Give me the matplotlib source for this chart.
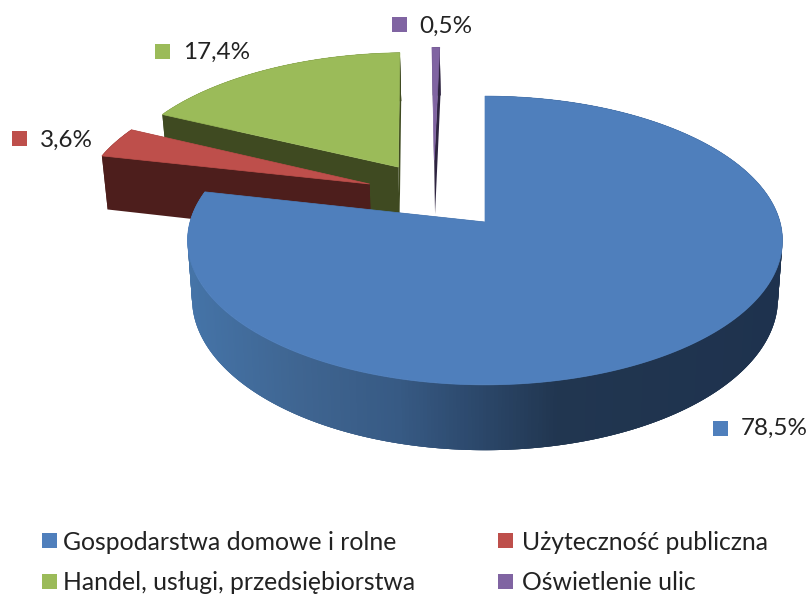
import numpy as np
import matplotlib
matplotlib.use("Agg")
import matplotlib.pyplot as plt
from matplotlib.patches import Polygon, Rectangle
from matplotlib.colors import to_rgb

categories = ["Gospodarstwa domowe i rolne", "Użyteczność publiczna",
              "Handel, usługi, przedsiębiorstwa", "Oświetlenie ulic"]
values = [78.5, 3.6, 17.4, 0.5]
value_labels = ["78,5%", "3,6%", "17,4%", "0,5%"]

top_colors = ["#4F7FBC", "#BE4F4B", "#9BBB59", "#8064A2"]
side_colors = ["#1F3350", "#4D1E1C", "#3F4A21", "#2E2440"]
offsets = [(0, 0), (-0.405, -0.277), (-0.309, -0.407), (-0.182, -0.46)]
draw_order = [2, 3, 1, 0]

CX, CY, RX, RY, P = 485.0, 222.0, 295.0, 142.0, 0.128
DEPTH, INSET = 57.0, 0.985
side_stops_x = [187, 300, 400, 470, 560, 783]
side_stops_c = ["#4574A8", "#3F6591", "#375A84", "#2D4A6E", "#213650", "#1E324E"]


def top_pt(X, Z):
    w = 1 - P * Z
    return CX + RX * X / w, CY + RY * Z / w


def low_pt(X, Z):
    x, y = top_pt(X, Z)
    return CX + (x - CX) * INSET, y + DEPTH / (1 - P * Z)


def blue_shade(x):
    rgb = np.array([to_rgb(c) for c in side_stops_c])
    return tuple(np.interp(x, side_stops_x, rgb[:, i]) for i in range(3))


fig = plt.figure(figsize=(8.12, 5.94), dpi=100)
ax = fig.add_axes([0, 0, 1, 1])
ax.set_xlim(0, 812)
ax.set_ylim(594, 0)
ax.axis("off")

fractions = np.array(values) / np.sum(values)
edges = np.concatenate([[0], np.cumsum(fractions)]) * 2 * np.pi

for i in draw_order:
    th = np.linspace(edges[i], edges[i + 1], max(8, int((edges[i + 1] - edges[i]) * 90)))
    ox, oz = offsets[i]
    X = ox + np.sin(th)
    Z = oz - np.cos(th)
    top = np.array([top_pt(a, b) for a, b in zip(X, Z)])
    low = np.array([low_pt(a, b) for a, b in zip(X, Z)])
    apex_t = top_pt(ox, oz)
    apex_l = low_pt(ox, oz)
    dark = side_colors[i]
    # radial faces
    for k in (0, -1):
        ax.add_patch(Polygon([apex_t, top[k], low[k], apex_l], closed=True,
                             fc=dark, ec="none", zorder=1))
    # outer wall: each band overlaps the next so no seams show
    n = len(th)
    for k in range(n - 1):
        j = min(k + 3, n - 1)
        c = blue_shade(top[k, 0]) if i == 0 else dark
        ax.add_patch(Polygon([top[k], top[j], low[j], low[k]], closed=True,
                             fc=c, ec="none", zorder=1))
    ax.add_patch(Polygon(np.vstack([[apex_t], top]), closed=True,
                         fc=top_colors[i], ec=top_colors[i], lw=0.5, zorder=1))

font = "Lato"
label_boxes = [(713, 421), (12, 131), (155, 44), (392, 17)]
label_text_xy = [(741, 428), (40, 140), (183, 52), (419, 26)]
for i in range(4):
    bx, by = label_boxes[i]
    ax.add_patch(Rectangle((bx, by), 15, 15, fc=top_colors[i], ec="none", zorder=3))
    tx, ty = label_text_xy[i]
    ax.text(tx, ty, value_labels[i], fontsize=17.5, family=font, color="#222222",
            ha="left", va="center", zorder=4)

legend_boxes = [(42, 533), (498, 533), (42, 574), (498, 574)]
legend_text_xy = [(63, 542), (522, 542), (63, 583), (522, 583)]
for i in range(4):
    bx, by = legend_boxes[i]
    ax.add_patch(Rectangle((bx, by), 15, 15, fc=top_colors[i], ec="none", zorder=3))
    tx, ty = legend_text_xy[i]
    ax.text(tx, ty, categories[i], fontsize=17.8, family=font, color="#222222",
            ha="left", va="center", zorder=4)

fig.savefig("out.png", dpi=100, facecolor="white")
